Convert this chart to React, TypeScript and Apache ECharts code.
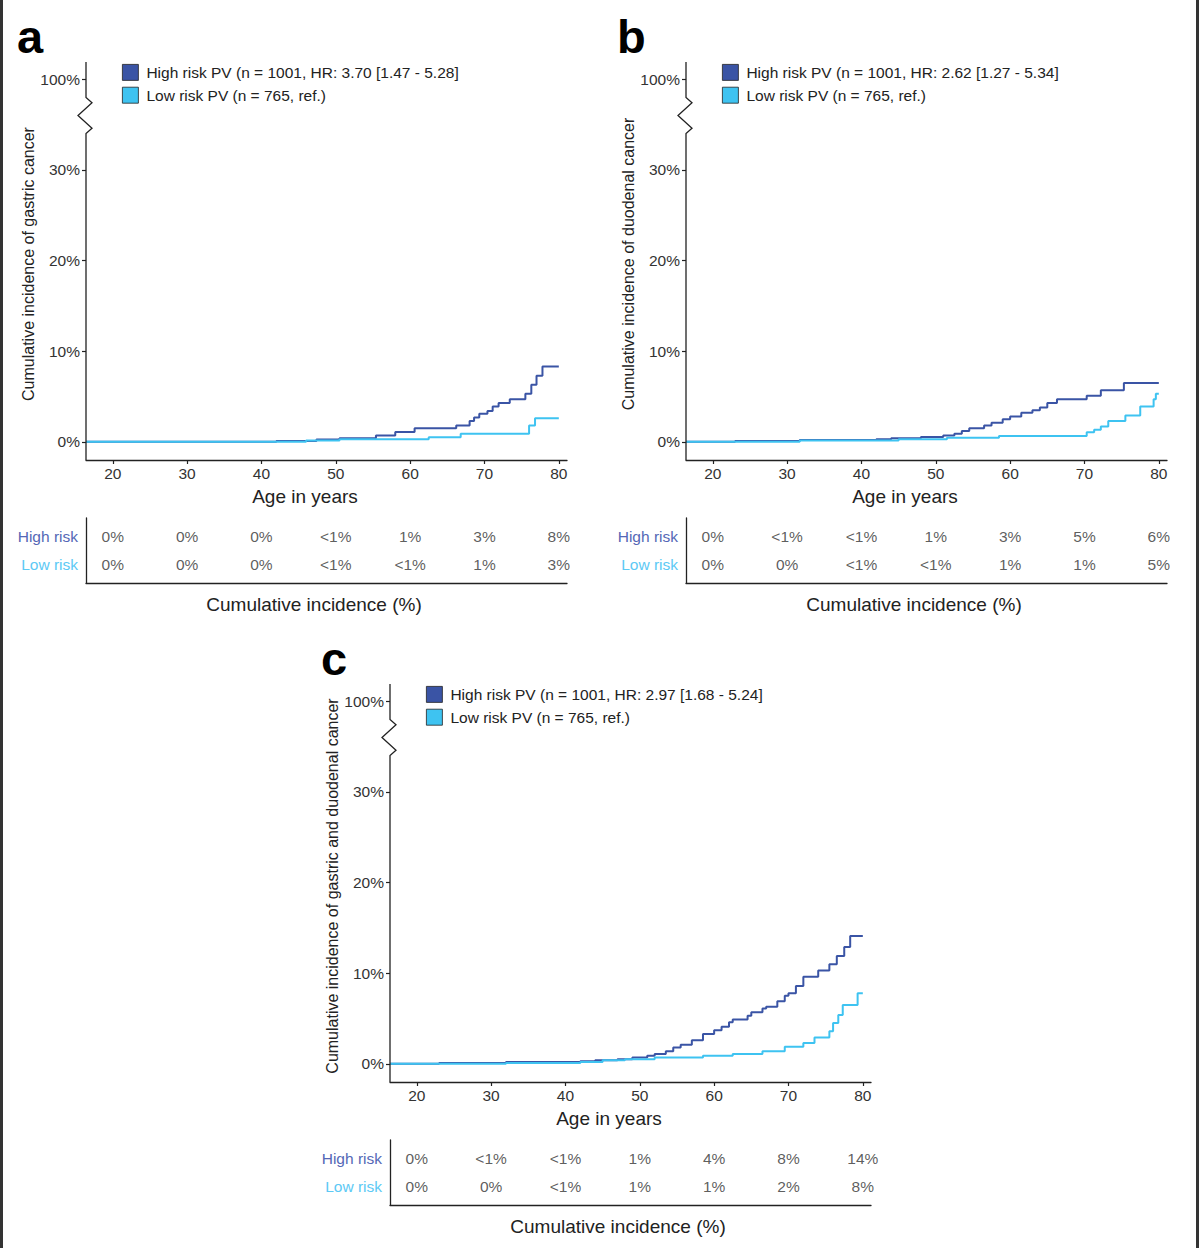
import React, { useEffect, useRef } from "react";
import * as echarts from "echarts";

// ---------- data ----------
const AGE_TICKS = [20, 30, 40, 50, 60, 70, 80];
const Y_TICKS = [0, 10, 20, 30, 40];
const Y_LABELS = ["0%", "10%", "20%", "30%", "100%"];

const highA = [
  [16.4, 0], [42, 0.1], [47.4, 0.25], [50.5, 0.4], [55.4, 0.7], [58, 1.1], [60.6, 1.5], [66.2, 1.8],
  [68, 2.3], [68.6, 2.7], [69.3, 3.1], [70.4, 3.4], [71.1, 3.9], [71.9, 4.3], [73.4, 4.7], [75.5, 5.3],
  [76.3, 6.3], [77, 7.3], [77.8, 8.3], [80, 8.3],
];
const lowA = [
  [16.4, 0], [46, 0.15], [50.5, 0.3], [62.5, 0.5], [66.8, 0.9], [76, 1.8], [76.8, 2.6], [80, 2.6],
];
const highB = [
  [16.4, 0], [23, 0.1], [31.7, 0.2], [42, 0.3], [44, 0.4], [48, 0.55], [51, 0.7], [52.5, 0.9],
  [53.5, 1.2], [54.5, 1.5], [56.5, 1.8], [57.5, 2.1], [59, 2.5], [60, 2.8], [61.5, 3.2], [63, 3.5],
  [64, 3.8], [65, 4.3], [66.3, 4.7], [70.3, 5.1], [72.2, 5.7], [75.3, 6.5], [80, 6.5],
];
const lowB = [
  [16.4, 0], [31.7, 0.15], [45, 0.3], [51.5, 0.45], [58.5, 0.65], [70.3, 1.05], [71.3, 1.35], [72.2, 1.7],
  [73.2, 2.3], [75.5, 2.9], [77.5, 3.9], [79.3, 4.7], [79.6, 5.3], [80, 5.3],
];
const highC = [
  [16.4, 0], [23, 0.1], [32, 0.2], [42, 0.3], [44, 0.4], [47, 0.5], [49, 0.7], [51, 0.9], [52, 1.1],
  [53.5, 1.4], [54.5, 1.8], [55.5, 2.1], [57, 2.6], [58.5, 3.3], [60, 3.7], [61, 4.1], [62, 4.6],
  [62.5, 4.9], [64.5, 5.3], [65, 5.7], [66.5, 6.1], [67, 6.3], [68.5, 6.9], [69.5, 7.5], [70, 7.8],
  [71, 8.6], [72, 9.6], [74, 10.3], [75.5, 11.0], [76.5, 11.9], [77.5, 12.9], [78.3, 14.1], [80, 14.1],
];
const lowC = [
  [16.4, 0], [32, 0.1], [42, 0.2], [45, 0.4], [48, 0.5], [52, 0.7], [58.5, 0.9], [62.5, 1.1],
  [66.5, 1.4], [69.5, 1.9], [72, 2.3], [73.5, 2.9], [75.5, 3.6], [76, 4.5], [76.7, 5.4], [77.3, 6.5],
  [79.3, 7.8], [80, 7.8],
];

const tableHighA = ["0%", "0%", "0%", "<1%", "1%", "3%", "8%"];
const tableLowA = ["0%", "0%", "0%", "<1%", "<1%", "1%", "3%"];
const tableHighB = ["0%", "<1%", "<1%", "1%", "3%", "5%", "6%"];
const tableLowB = ["0%", "0%", "<1%", "<1%", "1%", "1%", "5%"];
const tableHighC = ["0%", "<1%", "<1%", "1%", "4%", "8%", "14%"];
const tableLowC = ["0%", "0%", "<1%", "1%", "1%", "2%", "8%"];

const legendHighA = "High risk PV (n = 1001, HR: 3.70 [1.47 - 5.28]";
const legendHighB = "High risk PV (n = 1001, HR: 2.62 [1.27 - 5.34]";
const legendHighC = "High risk PV (n = 1001, HR: 2.97 [1.68 - 5.24]";
const legendLow = "Low risk PV (n = 765, ref.)";

const yTitleA = "Cumulative incidence of gastric cancer";
const yTitleB = "Cumulative incidence of duodenal cancer";
const yTitleC = "Cumulative incidence of gastric and duodenal cancer";
const xTitle = "Age in years";
const tableTitle = "Cumulative incidence (%)";
const rowHigh = "High risk";
const rowLow = "Low risk";

// ---------- style / layout ----------
const DARK = "#3a54a5";
const LIGHT = "#3ec3f1";
const ROW_HIGH_COLOR = "#5467b6";
const ROW_LOW_COLOR = "#5cc9f5";
const FONT = '"Liberation Sans", Arial, sans-serif';
const AXIS_COLOR = "#222";
const X_MIN = 16.4;
const X_MAX = 81.1;
const Y_MIN = -2;
const Y_MAX = 41.9;
const ROW_HIGH_Y = 0.708;
const ROW_LOW_Y = 0.277;
const TICK_FS = 15.5;
const TABLE_FS = 15.5;

const panels = [
  { letter: "a", ox: 0, oy: 0, high: highA, low: lowA, tHigh: tableHighA, tLow: tableLowA, legendHigh: legendHighA, yTitle: yTitleA },
  { letter: "b", ox: 600, oy: 0, high: highB, low: lowB, tHigh: tableHighB, tLow: tableLowB, legendHigh: legendHighB, yTitle: yTitleB },
  { letter: "c", ox: 304, oy: 622, high: highC, low: lowC, tHigh: tableHighC, tLow: tableLowC, legendHigh: legendHighC, yTitle: yTitleC },
];

function buildOption() {
  const grid: any[] = [];
  const xAxis: any[] = [];
  const yAxis: any[] = [];
  const series: any[] = [];
  const legend: any[] = [];

  panels.forEach((p, i) => {
    const gMain = 2 * i;
    const gTab = 2 * i + 1;
    grid.push({ left: p.ox + 86, top: p.oy + 62, width: 481, height: 398, containLabel: false });
    grid.push({ left: p.ox + 86, top: p.oy + 518, width: 481, height: 65, containLabel: false });

    xAxis.push({
      gridIndex: gMain, type: "value", min: X_MIN, max: X_MAX,
      axisLine: { show: true, onZero: false, lineStyle: { color: AXIS_COLOR, width: 1.3 } },
      axisTick: { show: true, customValues: AGE_TICKS, length: 4, lineStyle: { color: AXIS_COLOR, width: 1.2 } },
      axisLabel: { show: true, customValues: AGE_TICKS, margin: 5, color: "#333", fontSize: TICK_FS, fontFamily: FONT },
      splitLine: { show: false },
    });
    xAxis.push({
      gridIndex: gTab, type: "value", min: X_MIN, max: X_MAX,
      axisLine: { show: true, onZero: false, lineStyle: { color: AXIS_COLOR, width: 1.3 } },
      axisTick: { show: false }, axisLabel: { show: false }, splitLine: { show: false },
    });
    yAxis.push({
      gridIndex: gMain, type: "value", min: Y_MIN, max: Y_MAX,
      axisLine: { show: false, onZero: false },
      axisTick: { show: true, customValues: Y_TICKS, length: 4, lineStyle: { color: AXIS_COLOR, width: 1.2 } },
      axisLabel: {
        show: true, customValues: Y_TICKS, margin: 6, color: "#333", fontSize: TICK_FS, fontFamily: FONT,
        formatter: (v: number) => Y_LABELS[Y_TICKS.indexOf(Math.round(v))] ?? "",
      },
      splitLine: { show: false },
    });
    yAxis.push({
      gridIndex: gTab, type: "value", min: 0, max: 1,
      axisLine: { show: true, onZero: false, lineStyle: { color: AXIS_COLOR, width: 1.3 } },
      axisTick: { show: false },
      axisLabel: {
        show: true, customValues: [ROW_LOW_Y, ROW_HIGH_Y], margin: 8, fontSize: TABLE_FS, fontFamily: FONT,
        formatter: (v: number) => (v > 0.5 ? "{h|" + rowHigh + "}" : "{l|" + rowLow + "}"),
        rich: {
          h: { color: ROW_HIGH_COLOR, fontSize: TABLE_FS, fontFamily: FONT },
          l: { color: ROW_LOW_COLOR, fontSize: TABLE_FS, fontFamily: FONT },
        },
      },
      splitLine: { show: false },
    });

    series.push({
      type: "line", name: p.legendHigh, xAxisIndex: gMain, yAxisIndex: gMain, data: p.high, step: "end",
      showSymbol: false, symbol: "none", silent: true,
      lineStyle: { color: DARK, width: 2 }, itemStyle: { color: DARK },
    });
    series.push({
      type: "line", name: legendLow, xAxisIndex: gMain, yAxisIndex: gMain, data: p.low, step: "end",
      showSymbol: false, symbol: "none", silent: true,
      lineStyle: { color: LIGHT, width: 2 }, itemStyle: { color: LIGHT },
    });
    const tabLabel = { show: true, position: "inside", color: "#333", fontSize: TABLE_FS, fontFamily: FONT, formatter: (q: any) => q.value[2] };
    series.push({
      type: "scatter", xAxisIndex: gTab, yAxisIndex: gTab, symbolSize: 0, silent: true,
      data: AGE_TICKS.map((a, k) => [a, ROW_HIGH_Y, p.tHigh[k]]), label: tabLabel,
    });
    series.push({
      type: "scatter", xAxisIndex: gTab, yAxisIndex: gTab, symbolSize: 0, silent: true,
      data: AGE_TICKS.map((a, k) => [a, ROW_LOW_Y, p.tLow[k]]), label: tabLabel,
    });

    legend.push({
      data: [p.legendHigh, legendLow], left: p.ox + 122, top: p.oy + 64, orient: "vertical", padding: 0,
      itemWidth: 16, itemHeight: 16, itemGap: 6, icon: "rect", selectedMode: false,
      textStyle: { fontSize: 15.5, color: "#222", fontFamily: FONT, padding: [0, 0, 0, 3] },
      itemStyle: { borderColor: "#222", borderWidth: 0.8 },
    });
  });

  return { animation: false, backgroundColor: "#fff", grid, xAxis, yAxis, series, legend };
}

export default function App() {
  const ref = useRef<HTMLDivElement>(null);
  useEffect(() => {
    if (!ref.current) return;
    const chart = echarts.init(ref.current, undefined, { renderer: "svg" });
    chart.setOption(buildOption() as any);

    const graphic: any[] = [
      { type: "rect", shape: { x: 0, y: 0, width: 3, height: 1248 }, style: { fill: "#333" } },
      { type: "rect", shape: { x: 1196, y: 0, width: 3, height: 1248 }, style: { fill: "#333" } },
    ];
    panels.forEach((p, i) => {
      const px = (x: number, y: number) => chart.convertToPixel({ gridIndex: 2 * i } as any, [x, y]) as number[];
      const top = px(X_MIN, Y_MAX);
      const bot = px(X_MIN, Y_MIN);
      const ax = top[0];
      const b0 = px(X_MIN, 38)[1];
      const b1 = px(X_MIN, 37.4)[1];
      const b2 = px(X_MIN, 36)[1];
      const b3 = px(X_MIN, 34.6)[1];
      const b4 = px(X_MIN, 34)[1];
      graphic.push({
        type: "polyline",
        shape: { points: [[ax, top[1]], [ax, b0], [ax + 6, b1], [ax - 8, b2], [ax + 6, b3], [ax, b4], [ax, bot[1]]] },
        style: { stroke: AXIS_COLOR, lineWidth: 1.3, fill: "none" },
        z: 10,
      });
      graphic.push({
        type: "text", x: p.ox + 17, y: p.oy + 36,
        style: { text: p.letter, font: 'bold 47px "Liberation Sans", Arial, sans-serif', fill: "#000", textAlign: "left", textVerticalAlign: "middle", align: "left", verticalAlign: "middle" },
      });
      graphic.push({
        type: "text", x: p.ox + 28, y: p.oy + 264, rotation: Math.PI / 2,
        style: { text: p.yTitle, font: '16px "Liberation Sans", Arial, sans-serif', fill: "#222", textAlign: "center", textVerticalAlign: "middle", align: "center", verticalAlign: "middle" },
      });
      graphic.push({
        type: "text", x: p.ox + 305, y: p.oy + 496,
        style: { text: xTitle, font: '19px "Liberation Sans", Arial, sans-serif', fill: "#222", textAlign: "center", textVerticalAlign: "middle", align: "center", verticalAlign: "middle" },
      });
      graphic.push({
        type: "text", x: p.ox + 314, y: p.oy + 604,
        style: { text: tableTitle, font: '19px "Liberation Sans", Arial, sans-serif', fill: "#222", textAlign: "center", textVerticalAlign: "middle", align: "center", verticalAlign: "middle" },
      });
    });
    chart.setOption({ graphic });
    return () => chart.dispose();
  }, []);
  return <div ref={ref} style={{ position: "absolute", left: 0, top: 0, width: 1199, height: 1248, background: "#fff" }} />;
}
